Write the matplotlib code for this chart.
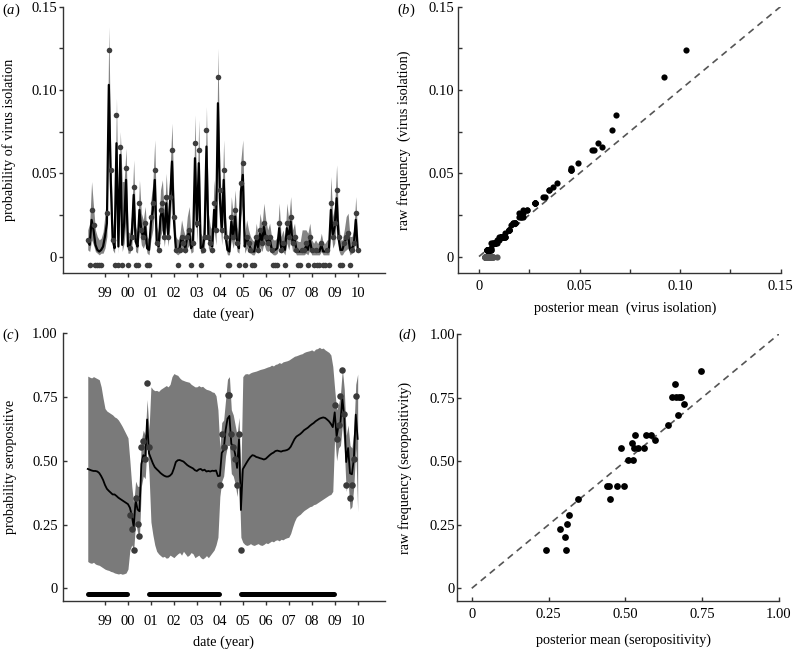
import numpy as np
import matplotlib
matplotlib.use('Agg')
from matplotlib import pyplot as plt

plt.rcParams['font.family'] = 'Liberation Serif'
plt.rcParams['mathtext.fontset'] = 'custom'
plt.rcParams['mathtext.rm'] = 'Liberation Serif'
plt.rcParams['mathtext.it'] = 'Liberation Serif:italic'

start_year = 1998.25  # first monthly sample
year_ticks = list(range(1999, 2011))
year_labels = ['99', '00', '01', '02', '03', '04', '05', '06', '07', '08', '09', '10']

# (a) virus isolation, one entry per month (None = no sample)
iso_obs = [.010, 0, .028, .019, 0, 0, 0, 0, None, None,
           .026, .124, .052, .010, 0, .085, 0, .066, 0, None,
           .053, 0, .005, .012, .042, 0, 0, .032, .016, .012,
           .020, 0, 0, .024, .032, .052, .008, .004, .028, .032,
           .012, .036, .012, .036, .064, .024, .004, 0, .004, .012,
           .008, .004, .012, .016, 0, .008, .068, .020, .064, 0,
           .004, .012, .076, .012, .008, .004, .032, .016, .108, .040,
           .016, .052, .012, 0, 0, .024, .012, .028, .008, 0,
           .044, .056, 0, .012, .008, .004, 0, 0, .012, .004,
           .016, .008, .020, .012, .008, .012, .004, 0, 0, 0,
           .020, .004, .008, 0, .020, .012, .024, .008, .012, .004,
           0, 0, .004, .004, .008, 0, .012, .004, 0, .004,
           0, 0, .008, 0, 0, .004, 0, .032, .012, .020,
           .040, .012, 0, 0, .008, .012, .014, 0, .004, .008,
           .026, .004]
iso_mean = [.009, .007, .022, .016, .007, .004, .003, .004, .006, .012,
            .020, .103, .046, .010, .005, .068, .006, .061, .007, .020,
            .046, .006, .006, .013, .037, .009, .006, .028, .015, .012,
            .018, .005, .004, .020, .028, .046, .009, .006, .024, .028,
            .013, .032, .013, .033, .057, .022, .005, .004, .005, .012,
            .008, .005, .012, .015, .005, .008, .059, .018, .056, .005,
            .005, .012, .066, .012, .008, .006, .028, .015, .092, .035,
            .015, .046, .012, .004, .003, .021, .012, .024, .008, .005,
            .039, .049, .006, .012, .008, .005, .003, .003, .011, .005,
            .015, .008, .018, .011, .008, .011, .005, .004, .004, .005,
            .017, .005, .008, .004, .017, .011, .021, .008, .011, .004,
            .003, .003, .004, .004, .006, .004, .010, .004, .003, .004,
            .003, .003, .007, .003, .003, .004, .004, .028, .012, .018,
            .035, .011, .004, .004, .008, .011, .013, .004, .005, .007,
            .022, .005]
iso_lo = [.004, .003, .010, .007, .003, .002, .001, .002, .002, .005,
          .012, .085, .030, .004, .002, .050, .002, .040, .003, .008,
          .022, .002, .002, .006, .022, .003, .002, .016, .007, .005,
          .008, .002, .001, .010, .016, .030, .004, .002, .012, .016,
          .006, .018, .006, .020, .040, .010, .002, .001, .002, .005,
          .003, .002, .005, .007, .002, .003, .042, .008, .038, .002,
          .002, .005, .048, .005, .003, .002, .016, .007, .072, .022,
          .007, .030, .005, .001, .001, .010, .005, .012, .003, .002,
          .024, .032, .002, .005, .003, .002, .001, .001, .004, .002,
          .006, .003, .008, .004, .003, .004, .002, .001, .001, .002,
          .008, .002, .003, .001, .008, .004, .010, .003, .004, .001,
          .001, .001, .001, .001, .002, .001, .004, .001, .001, .001,
          .001, .001, .003, .001, .001, .001, .001, .016, .005, .008,
          .022, .004, .001, .001, .003, .004, .005, .001, .002, .003,
          .010, .002]
iso_hi = [.016, .020, .045, .030, .016, .012, .010, .011, .015, .025,
          .040, .138, .062, .020, .014, .095, .018, .075, .045, .045,
          .065, .015, .014, .026, .058, .018, .014, .046, .026, .022,
          .030, .012, .010, .034, .044, .070, .018, .014, .040, .046,
          .024, .050, .026, .052, .080, .036, .012, .010, .012, .022,
          .016, .012, .024, .030, .012, .018, .085, .032, .082, .014,
          .012, .028, .090, .026, .018, .016, .046, .030, .125, .052,
          .028, .070, .024, .010, .010, .036, .024, .040, .018, .012,
          .058, .070, .014, .022, .016, .012, .010, .009, .020, .012,
          .026, .018, .032, .022, .016, .020, .012, .010, .010, .012,
          .032, .012, .016, .010, .032, .022, .036, .016, .020, .010,
          .009, .009, .016, .016, .016, .014, .020, .010, .008, .010,
          .008, .008, .014, .008, .008, .010, .010, .048, .024, .030,
          .055, .022, .010, .010, .016, .024, .026, .012, .012, .016,
          .036, .012]

# (c) seropositivity, posterior per month
sero_mean = [.468, .465, .462, .460, .460, .458, .452, .440, .425, .405,
             .390, .382, .375, .368, .368, .362, .355, .350, .345, .340,
             .335, .330, .316, .286, .240, .345, .309, .302, .487, .522,
             .507, .662, .529, .510, .490, .475, .467, .460, .452, .446,
             .441, .438, .438, .442, .450, .470, .495, .502, .503, .500,
             .497, .490, .483, .478, .474, .470, .463, .460, .466, .468,
             .462, .465, .458, .460, .458, .461, .460, .462, .440, .441,
             .531, .542, .620, .665, .676, .566, .559, .526, .472, .584,
             .307, .467, .480, .493, .505, .515, .522, .520, .515, .513,
             .510, .508, .505, .508, .515, .522, .528, .532, .538, .540,
             .538, .536, .539, .540, .542, .546, .555, .570, .585, .595,
             .600, .605, .612, .620, .625, .630, .637, .643, .648, .655,
             .660, .665, .668, .670, .668, .662, .655, .645, .632, .690,
             .595, .638, .651, .745, .671, .495, .550, .451, .447, .507,
             .681, .586]
sero_hi = [.832, .828, .825, .830, .826, .822, .818, .790, .745, .705,
           .695, .690, .685, .680, .672, .668, .660, .648, .635, .620,
           .605, .590, .500, .400, .330, .420, .400, .400, .580, .620,
           .600, .740, .620, .790, .780, .775, .776, .772, .780, .785,
           .790, .795, .790, .800, .830, .842, .838, .835, .825, .818,
           .815, .812, .810, .808, .800, .795, .790, .790, .795, .790,
           .792, .785, .780, .778, .775, .770, .768, .755, .700, .550,
           .650, .660, .740, .820, .830, .700, .680, .640, .600, .670,
           .450, .830, .840, .842, .840, .845, .848, .850, .852, .855,
           .858, .860, .862, .865, .868, .870, .875, .872, .878, .880,
           .885, .882, .888, .890, .892, .895, .900, .905, .910, .912,
           .915, .918, .920, .925, .928, .930, .932, .935, .930, .938,
           .940, .945, .940, .942, .935, .930, .925, .915, .870, .780,
           .700, .720, .760, .860, .780, .600, .640, .560, .550, .620,
           .800, .840]
sero_lo = [.105, .100, .098, .102, .095, .092, .090, .085, .080, .075,
           .072, .070, .066, .064, .060, .058, .056, .058, .055, .057,
           .060, .075, .150, .170, .150, .260, .220, .200, .400, .440,
           .430, .560, .450, .260, .210, .170, .145, .135, .128, .122,
           .125, .118, .120, .130, .125, .120, .128, .135, .140, .130,
           .145, .135, .125, .130, .140, .135, .120, .125, .130, .120,
           .115, .120, .128, .120, .130, .140, .150, .170, .200, .360,
           .420, .440, .520, .560, .560, .450, .440, .410, .360, .450,
           .200, .180, .172, .168, .170, .175, .170, .168, .172, .175,
           .170, .168, .172, .178, .175, .180, .185, .182, .188, .190,
           .186, .192, .190, .195, .198, .200, .215, .240, .262, .278,
           .285, .290, .298, .305, .310, .315, .320, .322, .328, .330,
           .335, .340, .345, .350, .355, .360, .365, .368, .380, .600,
           .500, .550, .560, .640, .550, .380, .420, .310, .320, .400,
           .550, .300]
sero_obs_month = [22, 23, 24, 25, 26, 27, 28, 29, 30, 31, 32,
                  69, 70, 71, 73, 74, 75, 76, 77, 78, 79, 80,
                  129, 130, 131, 132, 133, 134, 135, 137, 138, 139, 140]
sero_obs = [.289, .233, .151, .355, .254, .204, .555, .576, .506, .806, .555,
            .404, .605, .556, .759, .759, .605, .553, .506, .404, .605, .151,
            .720, .585, .642, .754, .855, .683, .404, .355, .404, .506, .754]
no_sero_periods = [(1998.25, 1999.97), (2000.92, 2003.96), (2004.92, 2008.97)]

# (d) posterior mean vs raw seropositivity
sero_post = [0.241, 0.286, 0.302, 0.307, 0.309, 0.316, 0.345, 0.441, 0.447, 0.451,
             0.472, 0.495, 0.487, 0.507, 0.526, 0.522, 0.531, 0.529, 0.542, 0.559,
             0.566, 0.584, 0.595, 0.638, 0.651, 0.662, 0.665, 0.676, 0.681, 0.671,
             0.690, 0.745]
sero_raw = [0.151, 0.232, 0.200, 0.151, 0.252, 0.288, 0.351, 0.402, 0.402, 0.351,
            0.402, 0.402, 0.553, 0.503, 0.503, 0.573, 0.603, 0.553, 0.553, 0.553,
            0.603, 0.603, 0.583, 0.642, 0.754, 0.803, 0.754, 0.754, 0.754, 0.683,
            0.723, 0.855]

axis_col = '#333333'
label_size = 10.3


def style_axes(ax, xdir, ydir, xpad, ypad):
    for s in ['top', 'right']:
        ax.spines[s].set_visible(False)
    for s in ['left', 'bottom']:
        ax.spines[s].set_color(axis_col)
        ax.spines[s].set_linewidth(1.0)
    ax.tick_params(axis='x', direction=xdir, length=3.2, width=1, color=axis_col, labelsize=10.5, pad=xpad)
    ax.tick_params(axis='y', direction=ydir, length=3.2, width=1, color=axis_col, labelsize=10.5, pad=ypad)


def tick_text(vals, fmt, every=1):
    out = []
    for k, v in enumerate(vals):
        if k % every:
            out.append('')
        elif v == 0:
            out.append('0')
        else:
            out.append(fmt % v)
    return out


def month_dates(n):
    return start_year + np.arange(n) / 12.0


def main():
    fig = plt.figure(figsize=(7.94, 6.52), dpi=100)
    ax_a = fig.add_axes([0.079, 0.581, 0.4059, 0.4089])
    ax_b = fig.add_axes([0.5772, 0.581, 0.4064, 0.4089])
    ax_c = fig.add_axes([0.079, 0.0782, 0.4059, 0.4106])
    ax_d = fig.add_axes([0.5752, 0.0782, 0.4059, 0.4095])

    # (a)
    t = month_dates(len(iso_mean))
    ax_a.fill_between(t, iso_lo, iso_hi, color='#858585', lw=0, zorder=1)
    ax_a.plot(t, iso_mean, color='black', lw=1.6, zorder=2)
    obs = np.array([np.nan if v is None else v for v in iso_obs])
    pos = obs > 0
    zero = obs == 0
    ax_a.scatter(t[pos], obs[pos], s=16, color='#3d3d3d', lw=0, zorder=3)
    ax_a.scatter(t[zero], np.full(zero.sum(), -0.005), s=16, color='#3d3d3d', lw=0, zorder=3)
    ax_a.set_xlim(1997.16, 2011.19)
    ax_a.set_ylim(-0.01, 0.15)
    ax_a.set_xticks(year_ticks)
    ax_a.set_xticklabels(year_labels)
    yt = [0, 0.025, 0.05, 0.075, 0.10, 0.125, 0.15]
    ax_a.set_yticks(yt)
    ax_a.set_yticklabels(tick_text(yt, '%.2f', 2))
    style_axes(ax_a, 'out', 'out', 6.5, 1)
    ax_a.set_xlabel('date (year)', fontsize=label_size)
    ax_a.set_ylabel('probability of virus isolation', fontsize=label_size)
    ax_a.xaxis.set_label_coords(0.5, -0.13)
    ax_a.yaxis.set_label_coords(-0.145, 0.5)

    # (b)
    m = np.array(iso_mean)
    ax_b.plot([0, 0.15], [0, 0.15], color='#555555', lw=1.2, dashes=(4, 3), zorder=1)
    ax_b.scatter(m[zero], obs[zero], s=20, color='#555555', lw=0, zorder=2)
    ax_b.scatter(m[pos], obs[pos], s=20, color='black', lw=0, zorder=3)
    ax_b.set_xlim(-0.0103, 0.1502)
    ax_b.set_ylim(-0.01, 0.15)
    ax_b.set_xticks(yt)
    ax_b.set_xticklabels(tick_text(yt, '%.2f', 2))
    ax_b.set_yticks(yt)
    ax_b.set_yticklabels(tick_text(yt, '%.2f', 2))
    style_axes(ax_b, 'in', 'in', 4.8, 3)
    ax_b.set_xlabel('posterior mean  (virus isolation)', fontsize=label_size)
    ax_b.set_ylabel('raw frequency  (virus isolation)', fontsize=label_size)
    ax_b.xaxis.set_label_coords(0.517, -0.105)
    ax_b.yaxis.set_label_coords(-0.147, 0.5)

    # (c)
    t = month_dates(len(sero_mean))
    ax_c.fill_between(t, sero_lo, sero_hi, color='#7a7a7a', lw=0, zorder=1)
    ax_c.plot(t, sero_mean, color='black', lw=1.3, zorder=2)
    ax_c.scatter(t[sero_obs_month], sero_obs, s=22, color='#3a3a3a', lw=0, zorder=3)
    for a, b in no_sero_periods:
        ax_c.plot([a, b], [-0.022, -0.022], color='black', lw=3.6, solid_capstyle='round', zorder=2)
    ax_c.set_xlim(1997.16, 2011.19)
    ax_c.set_ylim(-0.05, 1.0)
    ax_c.set_xticks(year_ticks)
    ax_c.set_xticklabels(year_labels)
    yt = [0, 0.25, 0.5, 0.75, 1.0]
    ax_c.set_yticks(yt)
    ax_c.set_yticklabels(tick_text(yt, '%.2f'))
    style_axes(ax_c, 'out', 'in', 6.9, 3.6)
    ax_c.set_xlabel('date (year)', fontsize=label_size)
    ax_c.set_ylabel('probability seropositive', fontsize=label_size)
    ax_c.xaxis.set_label_coords(0.5, -0.13)
    ax_c.yaxis.set_label_coords(-0.142, 0.5)

    # (d)
    ax_d.plot([0, 1], [0, 1], color='#555555', lw=1.2, dashes=(4, 3), zorder=1)
    ax_d.scatter(sero_post, sero_raw, s=24, color='black', lw=0, zorder=3)
    ax_d.set_xlim(-0.049, 1.0)
    ax_d.set_ylim(-0.05, 1.0)
    ax_d.set_xticks(yt)
    ax_d.set_xticklabels(tick_text(yt, '%.2f'))
    ax_d.set_yticks(yt)
    ax_d.set_yticklabels(tick_text(yt, '%.2f'))
    style_axes(ax_d, 'in', 'in', 5.3, 1.2)
    ax_d.set_xlabel('posterior mean (seropositivity)', fontsize=label_size)
    ax_d.set_ylabel('raw frequency (seropositivity)', fontsize=label_size)
    ax_d.xaxis.set_label_coords(0.517, -0.123)
    ax_d.yaxis.set_label_coords(-0.139, 0.5)

    for ax in [ax_a, ax_b, ax_c, ax_d]:
        for lab in ax.get_xticklabels() + ax.get_yticklabels():
            lab.set_clip_on(False)

    # panel letters
    fig.text(2 / 794, 1 - 10 / 652, r'($\mathit{a}$)', fontsize=10.5, va='center')
    fig.text(397 / 794, 1 - 10 / 652, r'($\mathit{b}$)', fontsize=10.5, va='center')
    fig.text(2 / 794, 1 - 335 / 652, r'($\mathit{c}$)', fontsize=10.5, va='center')
    fig.text(398 / 794, 1 - 335 / 652, r'($\mathit{d}$)', fontsize=10.5, va='center')

    fig.savefig('out.png', dpi=100)


if __name__ == '__main__':
    main()
